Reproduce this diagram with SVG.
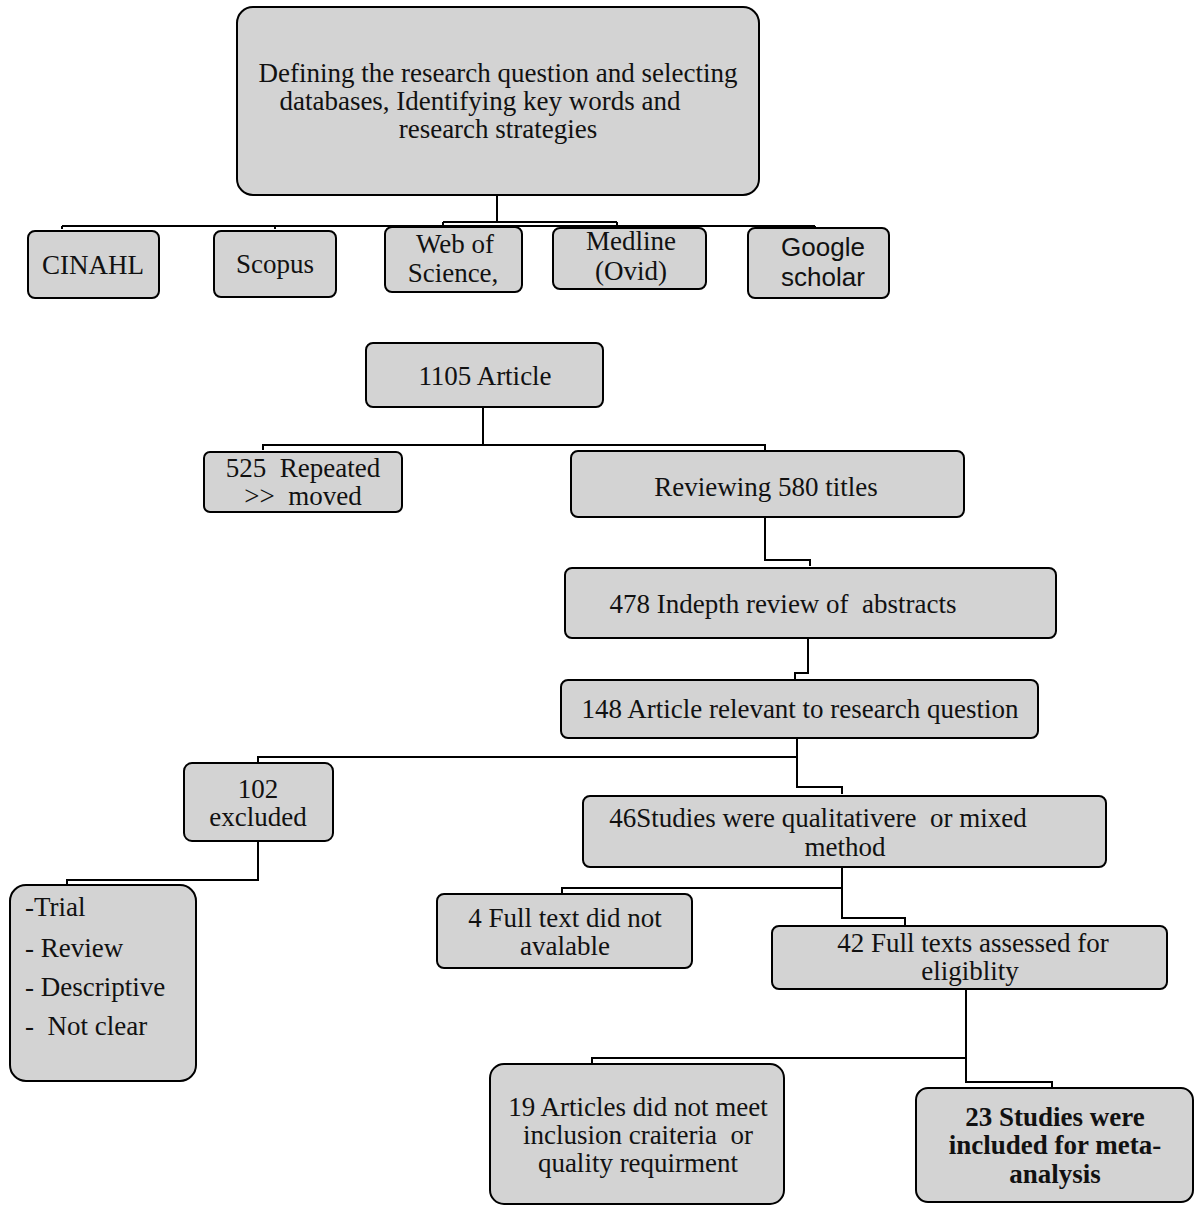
<svg xmlns="http://www.w3.org/2000/svg" width="1200" height="1216" viewBox="0 0 1200 1216">
<style>
.box{fill:#d3d3d3;stroke:#000;stroke-width:2}
.t{font-family:"Liberation Serif","Times New Roman",serif;font-size:27px;fill:#111;text-anchor:middle;white-space:pre}
.l{text-anchor:start}
.s{font-family:"Liberation Sans",Arial,sans-serif;font-size:26px}
.b{font-weight:bold}
.c{fill:none;stroke:#000;stroke-width:2}
</style>
<rect width="1200" height="1216" fill="#fff"/>
<g id="connectors">
<path class="c" d="M497 195V222M443 222H617M62 226H815M62 226V229M275 226V229M443 222V226M617 222V226M815 226V229"/>
<path class="c" d="M483 407V445H263V450M483 445H765V450"/>
<path class="c" d="M765 517V560H810V566"/>
<path class="c" d="M808 638V673H795V679"/>
<path class="c" d="M797 738V787H842V794M797 757H258V762"/>
<path class="c" d="M258 841V880H67V884"/>
<path class="c" d="M842 867V918H905V925M842 888H562V893"/>
<path class="c" d="M966 989V1082H1052V1087M966 1058H592V1063"/>
</g>
<g id="n-top"><rect class="box" x="237" y="7" width="522" height="188" rx="16"/>
<text class="t" x="498" y="82">Defining the research question and selecting</text>
<text class="t" x="480" y="110">databases, Identifying key words and</text>
<text class="t" x="498" y="138">research strategies</text></g>
<g id="n-cinahl"><rect class="box" x="28" y="231" width="131" height="67" rx="7"/>
<text class="t" x="93" y="274">CINAHL</text></g>
<g id="n-scopus"><rect class="box" x="214" y="231" width="122" height="66" rx="7"/>
<text class="t" x="275" y="273">Scopus</text></g>
<g id="n-wos"><rect class="box" x="385" y="227" width="137" height="65" rx="7"/>
<text class="t" x="455" y="253">Web of</text>
<text class="t" x="453" y="282">Science,</text></g>
<g id="n-medline"><rect class="box" x="553" y="228" width="153" height="61" rx="7"/>
<text class="t" x="631" y="250">Medline</text>
<text class="t" x="631" y="280">(Ovid)</text></g>
<g id="n-google"><rect class="box" x="748" y="228" width="141" height="70" rx="7"/>
<text class="t s" x="823" y="256">Google</text>
<text class="t s" x="823" y="286">scholar</text></g>
<g id="n-1105"><rect class="box" x="366" y="343" width="237" height="64" rx="7"/>
<text class="t" x="485" y="385">1105 Article</text></g>
<g id="n-525"><rect class="box" x="204" y="452" width="198" height="60" rx="6"/>
<text class="t" x="303" y="477">525  Repeated</text>
<text class="t" x="303" y="505">&gt;&gt;  moved</text></g>
<g id="n-580"><rect class="box" x="571" y="451" width="393" height="66" rx="7"/>
<text class="t" x="766" y="496">Reviewing 580 titles</text></g>
<g id="n-478"><rect class="box" x="565" y="568" width="491" height="70" rx="7"/>
<text class="t" x="783" y="613">478 Indepth review of  abstracts</text></g>
<g id="n-148"><rect class="box" x="561" y="680" width="477" height="58" rx="7"/>
<text class="t" x="800" y="718">148 Article relevant to research question</text></g>
<g id="n-102"><rect class="box" x="184" y="763" width="149" height="78" rx="8"/>
<text class="t" x="258" y="798">102</text>
<text class="t" x="258" y="826">excluded</text></g>
<g id="n-46"><rect class="box" x="583" y="796" width="523" height="71" rx="7"/>
<text class="t" x="818" y="827">46Studies were qualitativere  or mixed</text>
<text class="t" x="845" y="856">method</text></g>
<g id="n-list"><rect class="box" x="10" y="885" width="186" height="196" rx="16"/>
<text class="t l" x="25" y="916">-Trial</text>
<text class="t l" x="25" y="957">- Review</text>
<text class="t l" x="25" y="996">- Descriptive</text>
<text class="t l" x="25" y="1035">-  Not clear</text></g>
<g id="n-4"><rect class="box" x="437" y="894" width="255" height="74" rx="7"/>
<text class="t" x="565" y="927">4 Full text did not</text>
<text class="t" x="565" y="955">avalable</text></g>
<g id="n-42"><rect class="box" x="772" y="926" width="395" height="63" rx="7"/>
<text class="t" x="973" y="952">42 Full texts assessed for</text>
<text class="t" x="970" y="980">eligiblity</text></g>
<g id="n-19"><rect class="box" x="490" y="1064" width="294" height="140" rx="14"/>
<text class="t" x="638" y="1116">19 Articles did not meet</text>
<text class="t" x="638" y="1144">inclusion craiteria  or</text>
<text class="t" x="638" y="1172">quality requirment</text></g>
<g id="n-23"><rect class="box" x="916" y="1088" width="277" height="114" rx="12"/>
<text class="t b" x="1055" y="1126">23 Studies were</text>
<text class="t b" x="1055" y="1154">included for meta-</text>
<text class="t b" x="1055" y="1183">analysis</text></g>
</svg>
